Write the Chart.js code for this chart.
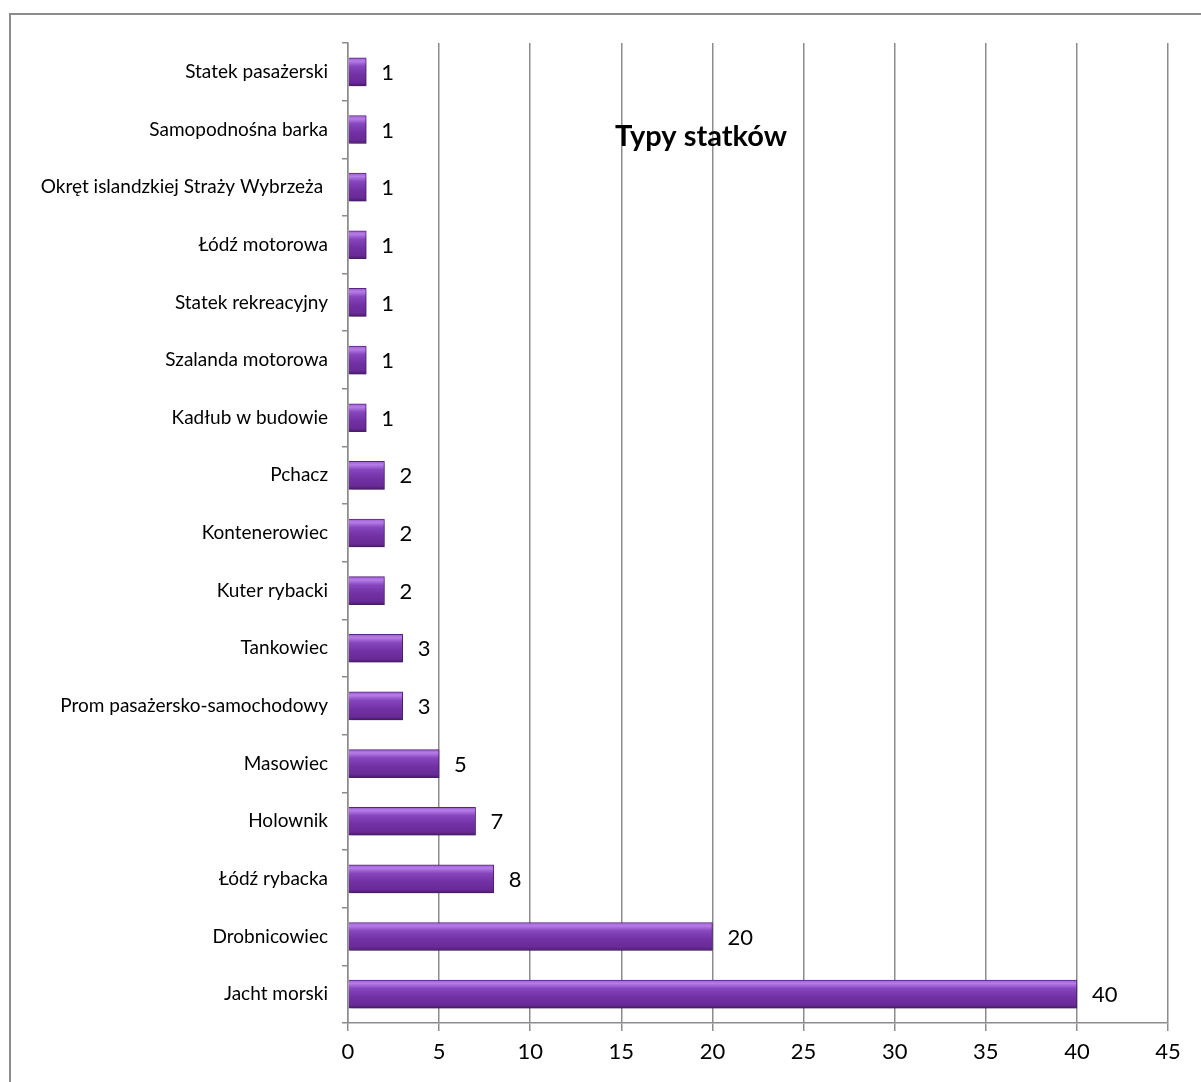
<!DOCTYPE html>
<html>
<head>
<meta charset="utf-8">
<script src="https://cdn.jsdelivr.net/npm/chart.js@4/dist/chart.umd.min.js"></script>
<style>
  body { margin: 0; background: #fff; overflow: hidden; }
  #ramka { position: absolute; left: 9px; top: 13px; width: 1400px; height: 1300px; border: 2px solid #8c8c8c; }
  #wrap { position: absolute; left: 0; top: 0; width: 1201px; height: 1082px; }
</style>
</head>
<body>
<div id="ramka"></div>
<div id="wrap"><canvas id="chart"></canvas></div>
<script>
// dane
const kategorie = [
  "Statek pasażerski",
  "Samopodnośna barka",
  "Okręt islandzkiej Straży Wybrzeża ",
  "Łódź motorowa",
  "Statek rekreacyjny",
  "Szalanda motorowa",
  "Kadłub w budowie",
  "Pchacz",
  "Kontenerowiec",
  "Kuter rybacki",
  "Tankowiec",
  "Prom pasażersko-samochodowy",
  "Masowiec",
  "Holownik",
  "Łódź rybacka",
  "Drobnicowiec",
  "Jacht morski"
];
const liczby = [1, 1, 1, 1, 1, 1, 1, 2, 2, 2, 3, 3, 5, 7, 8, 20, 40];
const tytul = "Typy statków";
const osX = { min: 0, max: 45, krok: 5 };

const GRUBOSC = 28;
const czcionka = "Lato, 'Open Sans', sans-serif";

// gradient dla kazdego slupka
function kolorSlupka(c) {
  const chart = c.chart;
  const y = chart.scales && chart.scales.y;
  if (!y || c.type !== "data") return "#7a38ad";
  const yc = y.getPixelForValue(c.dataIndex);
  if (!isFinite(yc)) return "#7a38ad";
  const g = chart.ctx.createLinearGradient(0, yc - GRUBOSC / 2, 0, yc + GRUBOSC / 2);
  g.addColorStop(0, "#9c5fd0");
  g.addColorStop(0.12, "#b67ce8");
  g.addColorStop(0.3, "#8646bd");
  g.addColorStop(0.6, "#7231a4");
  g.addColorStop(0.88, "#692b97");
  g.addColorStop(1, "#4b1a6e");
  return g;
}

// cien pod slupkami
const cien = {
  id: "cien",
  beforeDatasetsDraw(chart) {
    const ctx = chart.ctx;
    ctx.save();
    ctx.shadowColor = "rgba(0,0,0,0.28)";
    ctx.shadowBlur = 5;
    ctx.shadowOffsetX = 2;
    ctx.shadowOffsetY = 3;
  },
  afterDatasetsDraw(chart) {
    chart.ctx.restore();
  }
};

// etykiety z wartosciami
const etykiety = {
  id: "etykiety",
  afterDatasetsDraw(chart) {
    const ctx = chart.ctx;
    const meta = chart.getDatasetMeta(0);
    ctx.save();
    ctx.shadowColor = "transparent";
    ctx.font = "22px " + czcionka;
    ctx.fillStyle = "#000";
    ctx.textAlign = "left";
    ctx.textBaseline = "middle";
    meta.data.forEach((el, i) => {
      ctx.fillText(String(liczby[i]), el.x + 15, el.y + 1);
    });
    ctx.restore();
  }
};

// tytul na wykresie
const naglowek = {
  id: "naglowek",
  afterDraw(chart) {
    const ctx = chart.ctx;
    ctx.save();
    ctx.font = "bold 29px " + czcionka;
    ctx.fillStyle = "#000";
    ctx.textAlign = "center";
    ctx.textBaseline = "middle";
    ctx.fillText(tytul, 701, 137);
    ctx.restore();
  }
};

const ctx = document.getElementById("chart").getContext("2d");
new Chart(ctx, {
  type: "bar",
  data: {
    labels: kategorie,
    datasets: [{
      data: liczby,
      backgroundColor: kolorSlupka,
      borderColor: "#5a2484",
      borderWidth: 1,
      barThickness: GRUBOSC
    }]
  },
  options: {
    indexAxis: "y",
    responsive: true,
    maintainAspectRatio: false,
    animation: false,
    layout: { padding: { top: 43, right: 33, left: 0, bottom: 0 } },
    plugins: {
      legend: { display: false },
      tooltip: { enabled: false }
    },
    scales: {
      x: {
        min: osX.min,
        max: osX.max,
        afterFit(s) { s.height = 59; },
        ticks: {
          stepSize: osX.krok,
          color: "#000",
          font: { size: 22, family: czcionka },
          padding: 8
        },
        grid: {
          color: "#8c8c8c",
          lineWidth: 1.5,
          tickLength: 8
        },
        border: { color: "#8c8c8c", width: 1.5 }
      },
      y: {
        afterFit(s) { s.width = 348; },
        ticks: {
          color: "#000",
          font: { size: 19, family: czcionka },
          padding: 14,
          autoSkip: false
        },
        grid: {
          drawOnChartArea: false,
          color: "#8c8c8c",
          lineWidth: 1.5,
          tickLength: 6
        },
        border: { color: "#8c8c8c", width: 1.5 }
      }
    }
  },
  plugins: [cien, etykiety, naglowek]
});
</script>
</body>
</html>
